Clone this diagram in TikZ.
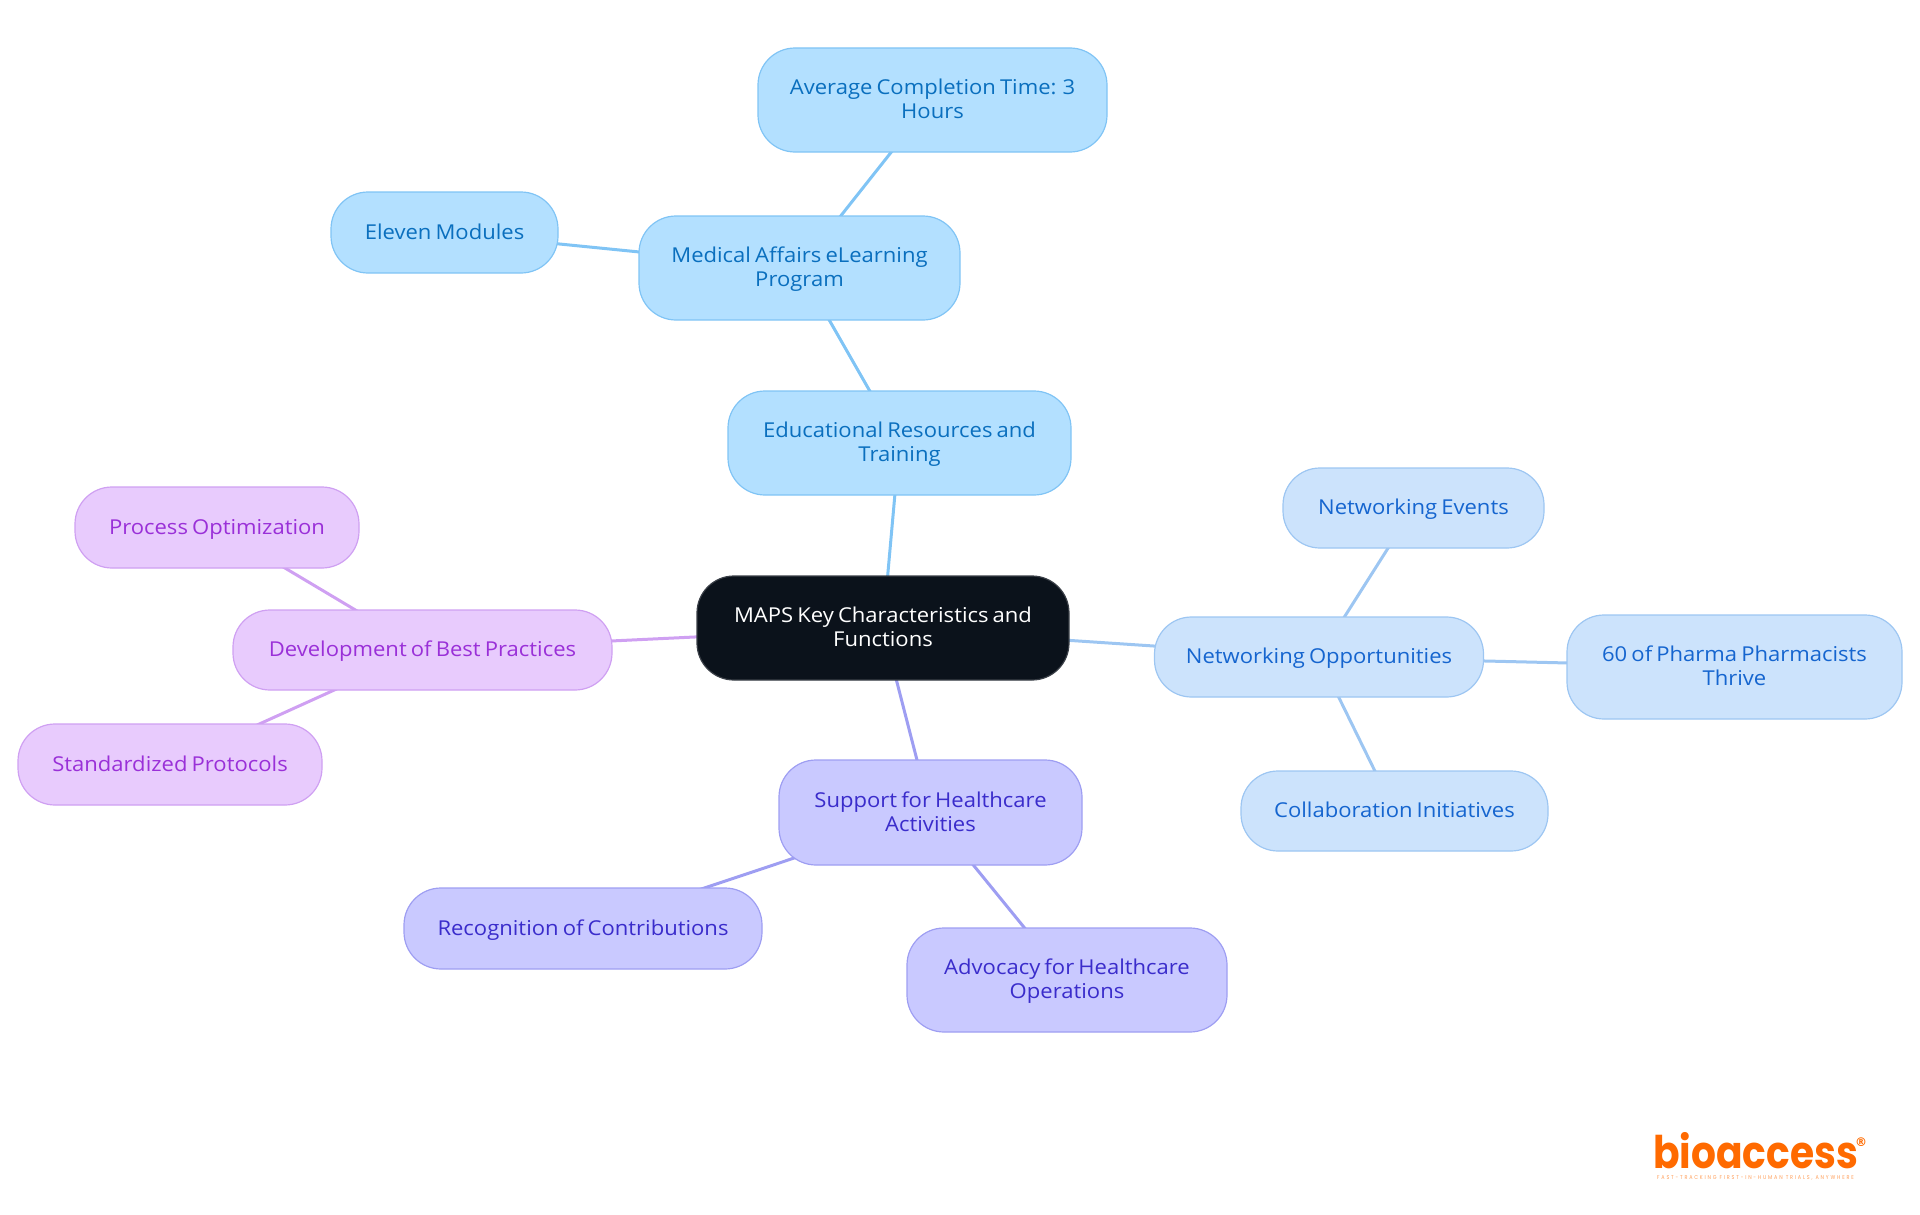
\documentclass[tikz,border=0pt]{standalone}
\usepackage{fontspec}
\setmainfont[FakeStretch=1.075,WordSpace=0.72]{Open Sans}
\newfontfamily\logofont[FakeStretch=0.87]{Poppins}
\newfontfamily\regfont{DejaVu Sans}
\usetikzlibrary{backgrounds}
\definecolor{bluefill}{HTML}{B3E0FF}
\definecolor{bluedraw}{HTML}{80C4F5}
\definecolor{bluetext}{HTML}{0A6FBE}
\definecolor{skyfill}{HTML}{CCE3FC}
\definecolor{skydraw}{HTML}{9DC6F2}
\definecolor{skytext}{HTML}{1565CF}
\definecolor{indigofill}{HTML}{C9C9FF}
\definecolor{indigodraw}{HTML}{9E9EF2}
\definecolor{indigotext}{HTML}{3A2CCB}
\definecolor{purplefill}{HTML}{E8CBFD}
\definecolor{purpledraw}{HTML}{CFA0F2}
\definecolor{purpletext}{HTML}{9A30D8}
\definecolor{rootfill}{HTML}{0B121B}
\definecolor{rootdraw}{HTML}{3A3F47}
\definecolor{logoorange}{HTML}{FF6A00}
\newcommand{\ms}{\rule[-5.5pt]{0pt}{24pt}}
\tikzset{
  mapbox/.style={rectangle,rounded corners=37pt,inner sep=0pt,line width=1.2pt,align=center,
    font=\fontsize{20.5}{24}\selectfont},
  bluebox/.style={mapbox,fill=bluefill,draw=bluedraw,text=bluetext},
  skybox/.style={mapbox,fill=skyfill,draw=skydraw,text=skytext},
  indigobox/.style={mapbox,fill=indigofill,draw=indigodraw,text=indigotext},
  purplebox/.style={mapbox,fill=purplefill,draw=purpledraw,text=purpletext},
  rootbox/.style={mapbox,fill=rootfill,draw=rootdraw,text=white},
  dims/.style 2 args={minimum width=#1 pt,minimum height=#2 pt},
  blueedge/.style={draw=bluedraw,line width=3pt},
  skyedge/.style={draw=skydraw,line width=3pt},
  indigoedge/.style={draw=indigodraw,line width=3pt},
  purpleedge/.style={draw=purpledraw,line width=3pt},
}
\begin{document}
\begin{tikzpicture}[x=1pt,y=-1pt]
\useasboundingbox (0,0) rectangle (1920,1215);
\node[rootbox,dims={372}{104}] (root) at (883,628) {\ms MAPS Key Characteristics and\\\ms Functions};
\node[bluebox,dims={343}{104}] (edu) at (899.5,443) {\ms Educational Resources and\\\ms Training};
\node[bluebox,dims={321}{104}] (med) at (799.5,268) {\ms Medical Affairs eLearning\\\ms Program};
\node[bluebox,dims={349}{104}] (avg) at (932.5,100) {\ms Average Completion Time: 3\\\ms Hours};
\node[bluebox,dims={227}{81}] (eleven) at (444.5,232.5) {\ms Eleven Modules};
\node[skybox,dims={329}{80}] (net) at (1319,657) {\ms Networking Opportunities};
\node[skybox,dims={335}{104}] (pharma) at (1734.5,667) {\ms 60 of Pharma Pharmacists\\\ms Thrive};
\node[skybox,dims={307}{80}] (collab) at (1394.5,811) {\ms Collaboration Initiatives};
\node[skybox,dims={261}{80}] (events) at (1413.5,508) {\ms Networking Events};
\node[indigobox,dims={303}{105}] (support) at (930.5,812.5) {\ms Support for Healthcare\\\ms Activities};
\node[indigobox,dims={358}{81}] (recog) at (583,928.5) {\ms Recognition of Contributions};
\node[indigobox,dims={320}{104}] (advo) at (1067,980) {\ms Advocacy for Healthcare\\\ms Operations};
\node[purplebox,dims={379}{80}] (dev) at (422.5,650) {\ms Development of Best Practices};
\node[purplebox,dims={284}{81}] (proc) at (217,527.5) {\ms Process Optimization};
\node[purplebox,dims={304}{81}] (std) at (170,764.5) {\ms Standardized Protocols};
\begin{scope}[on background layer]
\draw[blueedge] (root.center) -- (edu.center);
\draw[blueedge] (edu.center) -- (med.center);
\draw[blueedge] (med.center) -- (avg.center);
\draw[blueedge] (med.center) -- (eleven.center);
\draw[skyedge] (root.center) -- (net.center);
\draw[skyedge] (net.center) -- (pharma.center);
\draw[skyedge] (net.center) -- (collab.center);
\draw[skyedge] (net.center) -- (events.center);
\draw[indigoedge] (root.center) -- (support.center);
\draw[indigoedge] (support.center) -- (recog.center);
\draw[indigoedge] (support.center) -- (advo.center);
\draw[purpleedge] (root.center) -- (dev.center);
\draw[purpleedge] (dev.center) -- (proc.center);
\draw[purpleedge] (dev.center) -- (std.center);
\end{scope}
\node[inner sep=0pt,anchor=base,text depth=0pt,text=logoorange,font=\logofont\bfseries\fontsize{45}{45}\selectfont] (logo) at (1755.5,1168.5) {bioaccess};
\node[inner sep=0pt,text=logoorange,font=\regfont\bfseries\fontsize{12}{12}\selectfont] (reg) at (1861,1142) {®};
\node[inner sep=0pt,anchor=base,text=logoorange!65,font=\logofont\fontsize{5.6}{6}\selectfont\addfontfeature{LetterSpace=32}] (tag) at (1755.5,1179) {FAST-TRACKING FIRST-IN-HUMAN TRIALS, ANYWHERE};
\end{tikzpicture}
\end{document}
